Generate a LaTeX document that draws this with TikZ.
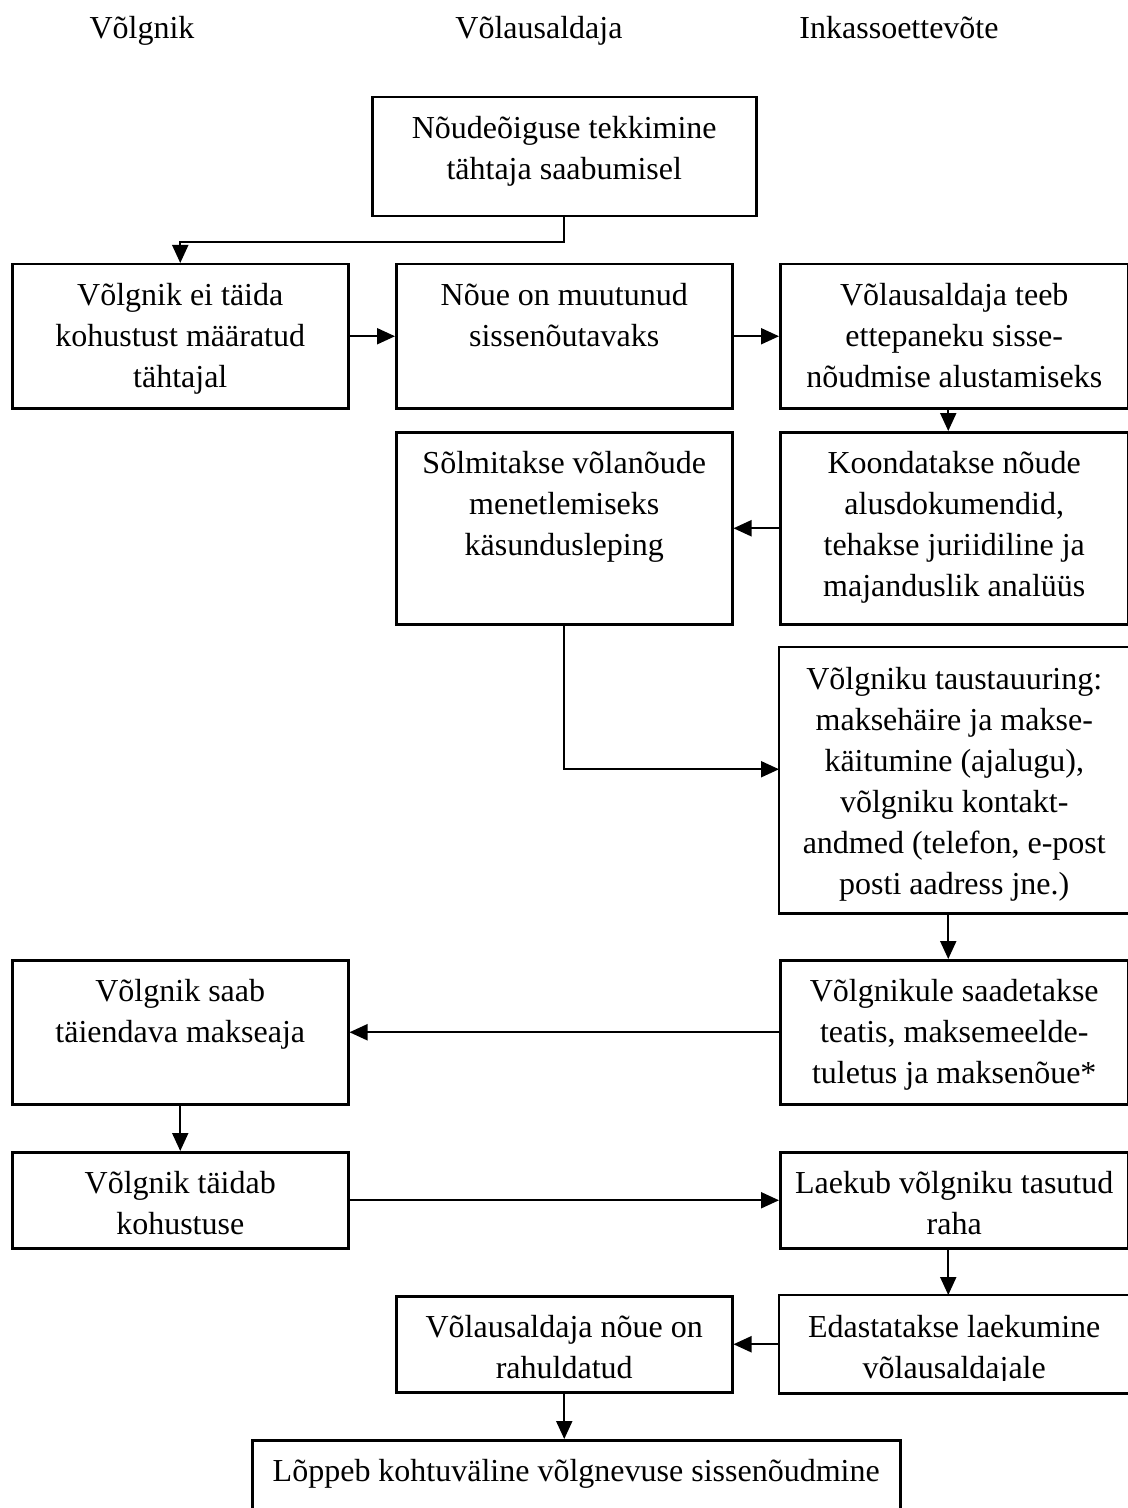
\documentclass[tikz,border=0pt]{standalone}
\usepackage{fontspec}
\setmainfont{Liberation Serif}
\usetikzlibrary{arrows.meta}

\newlength\pxlen
\setlength\pxlen{0.5pt}
% box text: width, height (in px), lines
\newcommand{\steptext}[3]{\parbox[t][#2\pxlen][t]{#1\pxlen}{\centering\rule{0pt}{20.5pt}#3}}

\tikzset{
  stepbox/.style={draw, line width=1.25pt, inner sep=0pt, anchor=north west},
  boxline/.style={line width=1.25pt},
  flow/.style={line width=1pt, -{Triangle[length=9pt,width=8pt]}},
  lane/.style={anchor=base}
}

\begin{document}
\begin{tikzpicture}[x=0.5pt, y=-0.5pt, font=\fontsize{16pt}{20.5pt}\selectfont]
\clip (0,0) rectangle (1128,1508);

% lanes
\path (142,39) node[lane] (lane1) {Võlgnik};
\path (539,39) node[lane] (lane2) {Võlausaldaja};
\path (899,39) node[lane] (lane3) {Inkassoettevõte};

% row 1
\node[stepbox] (start) at (371,96) {\steptext{384}{119}{Nõudeõiguse tekkimine\\tähtaja saabumisel}};

% row 2
\node[stepbox] (fail) at (11,263) {\steptext{336}{144}{Võlgnik ei täida\\kohustust määratud\\tähtajal}};
\node[stepbox] (due) at (395,263) {\steptext{336}{144}{Nõue on muutunud\\sissenõutavaks}};
\node[stepbox] (offer) at (779,263) {\steptext{348}{144}{Võlausaldaja teeb\\ettepaneku sisse-\\nõudmise alustamiseks}};

% row 3
\node[stepbox] (contract) at (395,431) {\steptext{336}{192}{Sõlmitakse võlanõude\\menetlemiseks\\käsundusleping}};
\node[stepbox] (docs) at (779,431) {\steptext{348}{192}{Koondatakse nõude\\alusdokumendid,\\tehakse juriidiline ja\\majanduslik analüüs}};

% row 4 (text runs out of the box)
\begin{scope}
\clip (779,647) rectangle (1127,900);
\node[stepbox, draw=none] (check) at (779,647) {\steptext{348}{264}{Võlgniku taustauuring:\\maksehäire ja makse-\\käitumine (ajalugu),\\võlgniku kontakt-\\andmed (telefon, e-post\\posti aadress jne.)}};
\end{scope}
\draw[boxline] (check.north west) rectangle (check.south east);

% row 5
\node[stepbox] (extra) at (11,959) {\steptext{336}{144}{Võlgnik saab\\täiendava makseaja}};
\node[stepbox] (notice) at (779,959) {\steptext{348}{144}{Võlgnikule saadetakse\\teatis, maksemeelde-\\tuletus ja maksenõue*}};

% row 6
\node[stepbox] (paid) at (11,1151) {\steptext{336}{96}{Võlgnik täidab\\kohustuse}};
\node[stepbox] (income) at (779,1151) {\steptext{348}{96}{Laekub võlgniku tasutud\\raha}};

% row 7
\node[stepbox] (settled) at (395,1295) {\steptext{336}{96}{Võlausaldaja nõue on\\rahuldatud}};
\begin{scope}
\clip (779,1295) rectangle (1127,1380);
\node[stepbox, draw=none] (forward) at (779,1295) {\steptext{348}{96}{Edastatakse laekumine\\võlausaldajale}};
\end{scope}
\draw[boxline] (forward.north west) rectangle (forward.south east);

% row 8
\node[stepbox] (end) at (251,1439) {\steptext{648}{96}{Lõppeb kohtuväline võlgnevuse sissenõudmine}};

% arrows
\draw[flow] (start.south) -- ++(0,25) -| (fail.north);
\draw[flow] (fail.east) -- (due.west);
\draw[flow] (due.east) -- (offer.west);
\draw[flow] ([xshift=-3pt]offer.south) -- ([xshift=-3pt]docs.north);
\draw[flow] (docs.west) -- (contract.east);
\draw[flow] (contract.south) |- ([yshift=5.5pt]check.west);
\draw[flow] ([xshift=-3pt]check.south) -- ([xshift=-3pt]notice.north);
\draw[flow] (notice.west) -- (extra.east);
\draw[flow] (extra.south) -- (paid.north);
\draw[flow] (paid.east) -- (income.west);
\draw[flow] ([xshift=-3pt]income.south) -- ([xshift=-3pt]forward.north);
\draw[flow] (forward.west) -- (settled.east);
\draw[flow] (settled.south) -- (settled.south |- end.north);
\end{tikzpicture}
\end{document}
